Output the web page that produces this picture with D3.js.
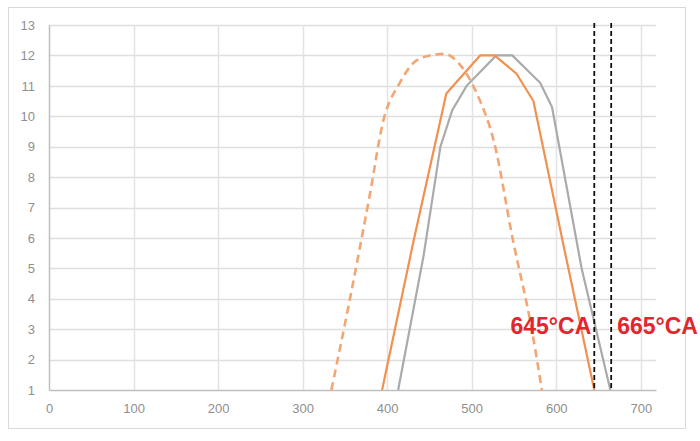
<!DOCTYPE html>
<html>
<head>
<meta charset="utf-8">
<script src="https://cdn.jsdelivr.net/npm/d3@7"></script>
<style>
  body { margin: 0; background: #fff; }
  #chart { width: 700px; height: 441px; }
</style>
</head>
<body>
<div id="chart"></div>
<script>
// crank angle (°CA) vs lift
var solidX  = [394, 432, 470, 510, 527, 553, 573, 609, 645];
var solidY  = [1, 6, 10.75, 12, 12, 11.4, 10.5, 5.7, 1];

var grayX   = [413, 443, 463, 477, 494, 529, 548, 581, 595, 630, 664];
var grayY   = [1, 5.4, 9, 10.2, 11, 12, 12, 11.1, 10.3, 5, 1];

var dashX   = [334, 356, 380, 395, 415, 433, 451, 468, 486, 506, 526, 549, 571, 583];
var dashY   = [1, 4, 7.5, 9.8, 11.1, 11.8, 12, 12.05, 11.7, 10.75, 9.2, 5.9, 3, 1];

var markers = [645, 665];
var markerLabels = ["645°CA", "665°CA"];

var xTicks = [0, 100, 200, 300, 400, 500, 600, 700];
var yTicks = [1, 2, 3, 4, 5, 6, 7, 8, 9, 10, 11, 12, 13];

var margin = {top: 25, right: 44, bottom: 51, left: 49},
    width = 700 - margin.left - margin.right,
    height = 441 - margin.top - margin.bottom;

var root = d3.select("#chart").append("svg")
    .attr("width", 700)
    .attr("height", 441);

// outer frame
root.append("rect")
    .attr("x", 8.5)
    .attr("y", 7.5)
    .attr("width", 677)
    .attr("height", 421)
    .attr("fill", "#fff")
    .attr("stroke", "#d9d9d9");

var svg = root.append("g")
    .attr("transform", "translate(" + margin.left + "," + margin.top + ")");

var x = d3.scaleLinear().domain([0, 718]).range([0, width]),
    y = d3.scaleLinear().domain([1, 13]).range([height, 0]);

// grid
svg.append("g")
    .selectAll("line")
    .data(yTicks.slice(1))
    .enter().append("line")
      .attr("x1", 0)
      .attr("x2", width)
      .attr("y1", function(d) { return Math.round(y(d)) + 0.5; })
      .attr("y2", function(d) { return Math.round(y(d)) + 0.5; })
      .attr("stroke", "#dedede")
      .attr("stroke-width", 1.5);

svg.append("g")
    .selectAll("line")
    .data(xTicks.slice(1))
    .enter().append("line")
      .attr("x1", function(d) { return Math.round(x(d)) + 0.5; })
      .attr("x2", function(d) { return Math.round(x(d)) + 0.5; })
      .attr("y1", 0)
      .attr("y2", height)
      .attr("stroke", "#e3e3e3")
      .attr("stroke-width", 1.5);

// axes
svg.append("g")
    .attr("class", "x-axis")
    .attr("transform", "translate(0," + height + ")")
    .style("font-family", "Liberation Sans")
    .style("font-size", "13px")
    .style("color", "#bfbfbf")
    .call(d3.axisBottom(x).tickValues(xTicks).tickSize(0).tickPadding(14).tickSizeOuter(0))
    .selectAll("text")
      .attr("fill", "#8f8f8f");

svg.append("g")
    .attr("class", "y-axis")
    .style("font-family", "Liberation Sans")
    .style("font-size", "13px")
    .style("color", "#bfbfbf")
    .call(d3.axisLeft(y).tickValues(yTicks).tickSize(0).tickPadding(14).tickSizeOuter(0))
    .selectAll("text")
      .attr("fill", "#8f8f8f");

svg.selectAll(".domain").attr("stroke-width", 1.5);

// curves
function pts(xs, ys) {
  return xs.map(function(d, i) { return [d, ys[i]]; });
}

var line = d3.line()
    .x(function(d) { return x(d[0]); })
    .y(function(d) { return y(d[1]); });

svg.append("path")
    .datum(pts(dashX, dashY))
    .attr("fill", "none")
    .attr("stroke", "#f3a673")
    .attr("stroke-width", 2.6)
    .attr("stroke-dasharray", "8,5")
    .attr("d", line.curve(d3.curveMonotoneX));

svg.append("path")
    .datum(pts(grayX, grayY))
    .attr("fill", "none")
    .attr("stroke", "#aaaaaa")
    .attr("stroke-width", 2.2)
    .attr("d", line.curve(d3.curveLinear));

svg.append("path")
    .datum(pts(solidX, solidY))
    .attr("fill", "none")
    .attr("stroke", "#f0914f")
    .attr("stroke-width", 2.2)
    .attr("d", line.curve(d3.curveLinear));

// marker lines
svg.append("g")
    .selectAll("line")
    .data(markers)
    .enter().append("line")
      .attr("x1", function(d) { return x(d); })
      .attr("x2", function(d) { return x(d); })
      .attr("y1", -2)
      .attr("y2", height)
      .attr("stroke", "#111")
      .attr("stroke-width", 1.8)
      .attr("stroke-dasharray", "5,3");

svg.append("g")
    .selectAll("text")
    .data(markers)
    .enter().append("text")
      .attr("x", function(d, i) { return i == 0 ? x(d) - 3 : x(d) + 6; })
      .attr("y", y(3) + 5)
      .style("text-anchor", function(d, i) { return i == 0 ? "end" : "start"; })
      .attr("font-family", "Liberation Sans")
      .attr("font-size", "23px")
      .attr("font-weight", "bold")
      .attr("fill", "#e3262d")
      .text(function(d, i) { return markerLabels[i]; });
</script>
</body>
</html>
